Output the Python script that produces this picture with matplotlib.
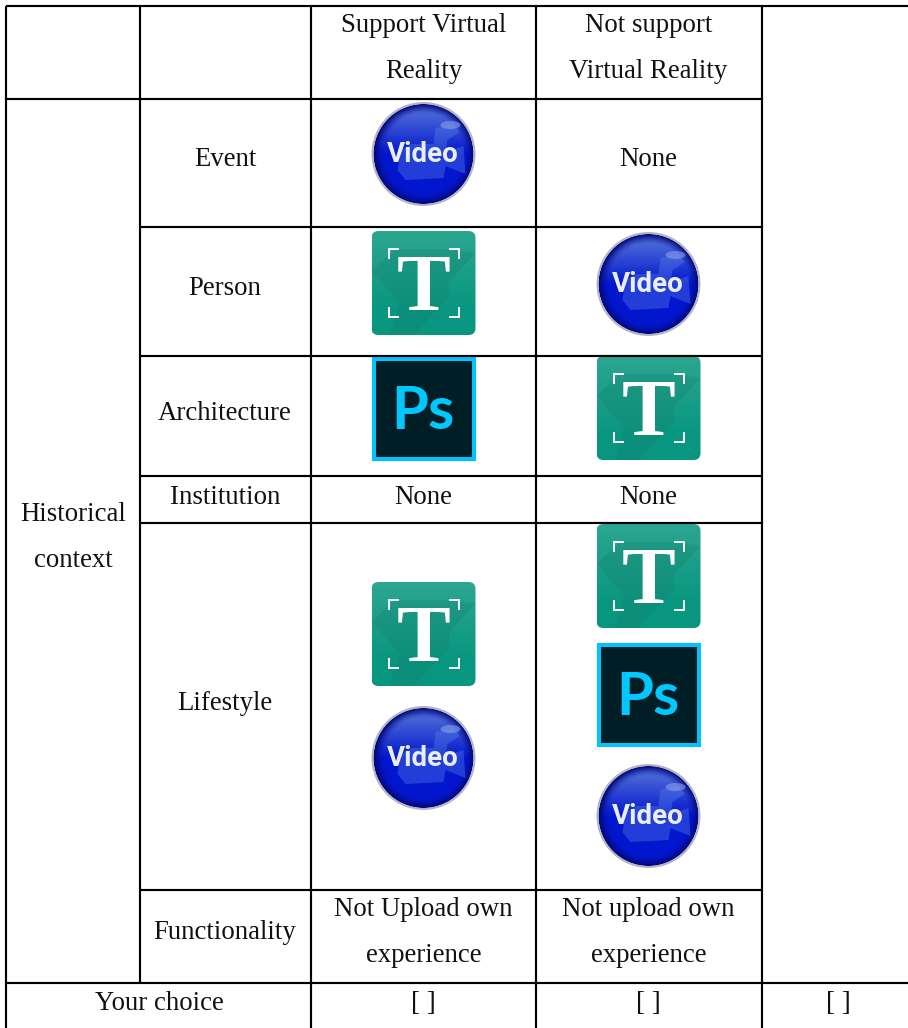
import numpy as np
import matplotlib
matplotlib.use("Agg")
import matplotlib.pyplot as plt
from matplotlib.patches import Circle, Ellipse, FancyBboxPatch, Polygon, Rectangle

# ---- table content ----
header_support = ["Support Virtual", "Reality"]
header_not = ["Not support", "Virtual Reality"]
group_label = ["Historical", "context"]
row_labels = ["Event", "Person", "Architecture", "Institution", "Lifestyle"]
support_cells = [["video"], ["text"], ["image"], [], ["text", "video"]]
not_support_cells = [[], ["video"], ["text"], [], ["text", "image", "video"]]
empty_text = "None"
function_label = "Functionality"
function_support = ["Not Upload own", "experience"]
function_not = ["Not upload own", "experience"]
choice_label = "Your choice"
choice_mark = "[ ]"

# ---- layout (pixels) ----
W, H = 908, 1028
col_x = [6, 140, 311, 536, 762]
row_y = [6, 98.5, 227, 355.5, 476, 523, 889.5, 983]
col_c = [73, 225, 423.5, 648.5, 838]
support_icon_y = [[154], [283], [409], [], [634, 758]]
not_icon_y = [[], [284], [408], [], [576, 695, 816]]
FS = 19.3
SERIF = "Liberation Serif"

fig = plt.figure(figsize=(W / 100, H / 100), dpi=100)
ax = fig.add_axes([0, 0, 1, 1])
ax.axis("off")


def hline(x0, x1, y):
    ax.plot([x0, x1], [y, y], color="black", lw=1.55, solid_capstyle="butt", zorder=5)


def vline(x, y0, y1):
    ax.plot([x, x], [y0, y1], color="black", lw=1.55, solid_capstyle="butt", zorder=5)


def label(x, y, s, **kw):
    ax.text(x, y + 2.3, s, ha="center", va="center", fontsize=FS, family=SERIF,
            color="#111111", zorder=6, **kw)


def draw_video(cx, cy):
    r = 52
    n = 208
    yy, xx = np.mgrid[-1:1:n * 1j, -1:1:n * 1j]
    d = np.hypot(xx, yy)
    base = np.array([3, 22, 205]) / 255
    top = np.array([70, 100, 215]) / 255
    dark = np.array([2, 8, 120]) / 255
    img = np.ones((n, n, 3)) * base
    t = np.clip((-yy - 0.0) / 0.75, 0, 1)[..., None]
    img = img * (1 - t) + top * t
    e = np.clip((d - 0.78) / 0.18, 0, 1)[..., None] ** 1.4
    img = img * (1 - e) + dark * e
    im = ax.imshow(img, extent=(cx - r, cx + r, cy + r, cy - r), aspect="auto",
                   interpolation="bilinear", zorder=2)
    clip = Circle((cx, cy), r - 2, transform=ax.transData)
    im.set_clip_path(clip)
    ax.add_patch(Circle((cx, cy), r - 1, fill=False, ec="#b4b4be", lw=1.4, zorder=3))
    # camera silhouette
    cam = [(-22, -4), (-12, -10), (10, -10), (12, -26), (30, -30), (36, -22), (24, -14),
           (22, -2), (40, -8), (42, 20), (22, 12), (20, 24), (-18, 26), (-26, 16), (-24, 4)]
    ax.add_patch(Polygon([(cx + a, cy + b) for a, b in cam], closed=True,
                         fc="#5a80ea", alpha=0.38, ec="none", zorder=3))
    ax.add_patch(Ellipse((cx + 27, cy - 29), 20, 8, fc="#8aa0e8", alpha=0.6, ec="none", zorder=3))
    ax.text(cx - 1, cy + 1, "Video", ha="center", va="center", fontsize=20,
            family="Roboto", weight="bold", color="#e8eefc", zorder=4)


def draw_text_icon(cx, cy):
    s = 52
    n = 104
    yy, xx = np.mgrid[0:1:n * 1j, 0:1:n * 1j]
    c0 = np.array([44, 166, 145]) / 255
    c1 = np.array([8, 150, 128]) / 255
    t = np.clip(yy * 1.3, 0, 1)[..., None]
    img = c0 * (1 - t) + c1 * t
    im = ax.imshow(img, extent=(cx - s, cx + s, cy + s, cy - s), aspect="auto", zorder=2)
    box = FancyBboxPatch((cx - s + 5, cy - s + 5), 2 * s - 10, 2 * s - 10,
                         boxstyle="round,pad=5,rounding_size=7", fc="none", ec="none",
                         transform=ax.transData, zorder=2)
    ax.add_patch(box)
    im.set_clip_path(box)
    sh = Polygon([(cx - 52, cy - 12), (cx - 28, cy - 34), (cx + 28, cy - 34), (cx + 52, cy - 30),
                  (cx + 26, cy - 2), (cx + 26, cy + 14), (cx - 10, cy + 52), (cx - 34, cy + 52),
                  (cx - 24, cy + 20)], closed=True, fc="#15806f", alpha=0.3, ec="none", zorder=3)
    ax.add_patch(sh)
    sh.set_clip_path(box)
    ax.text(cx, cy + 27, "T", ha="center", va="baseline", fontsize=58, family=SERIF,
            weight="bold", color="white", zorder=4)
    a, b, k = 35, 34, 9
    for sx in (-1, 1):
        ax.plot([cx + sx * (a - k), cx + sx * a, cx + sx * a], [cy - b, cy - b, cy - b + k],
                color="white", lw=1.4, solid_joinstyle="miter", zorder=4)
        ax.plot([cx + sx * (a - k), cx + sx * a, cx + sx * a], [cy + b, cy + b, cy + b - k],
                color="white", lw=1.4, solid_joinstyle="miter", zorder=4)


def draw_image_icon(cx, cy):
    s = 52
    ax.add_patch(Rectangle((cx - s, cy - s), 2 * s, 2 * s, fc="#00c4ff", ec="none", zorder=2))
    ax.add_patch(Rectangle((cx - s + 4, cy - s + 4), 2 * s - 8, 2 * s - 8, fc="#001e26", ec="none", zorder=3))
    ax.text(cx - 1, cy + 20, "Ps", ha="center", va="baseline", fontsize=43, family="Lato",
            weight="bold", color="#00c8ff", zorder=4)


ICONS = {"video": draw_video, "text": draw_text_icon, "image": draw_image_icon}

# ---- grid ----
hline(col_x[0], W, row_y[0])
hline(col_x[0], col_x[4], row_y[1])
for y in row_y[2:7]:
    hline(col_x[1], col_x[4], y)
hline(col_x[0], W, row_y[7])
vline(col_x[0], row_y[0], H)
vline(col_x[1], row_y[0], row_y[7])
for x in col_x[2:4]:
    vline(x, row_y[0], H)
vline(col_x[4], row_y[0], H)

# ---- header ----
for c, lines in ((col_c[2], header_support), (col_c[3], header_not)):
    label(c, 23, lines[0])
    label(c, 69, lines[1])

# ---- group label ----
label(col_c[0], 512, group_label[0])
label(col_c[0], 558, group_label[1])

# ---- rows ----
row_text_y = [157, 286, 411, 495, 701]
for i, name in enumerate(row_labels):
    label(col_c[1], row_text_y[i], name)
    for c, cells, ys in ((col_c[2], support_cells, support_icon_y),
                         (col_c[3], not_support_cells, not_icon_y)):
        if cells[i]:
            for kind, y in zip(cells[i], ys[i]):
                ICONS[kind](c, y)
        else:
            label(c, row_text_y[i], empty_text)

label(col_c[1], 930, function_label)
label(col_c[2], 907, function_support[0])
label(col_c[2], 953, function_support[1])
label(col_c[3], 907, function_not[0])
label(col_c[3], 953, function_not[1])

label(159, 1001, choice_label)
for c in col_c[2:5]:
    label(c, 1001, choice_mark)

ax.set_xlim(0, W)
ax.set_ylim(H, 0)
fig.savefig("out.png", dpi=100, facecolor="white")
